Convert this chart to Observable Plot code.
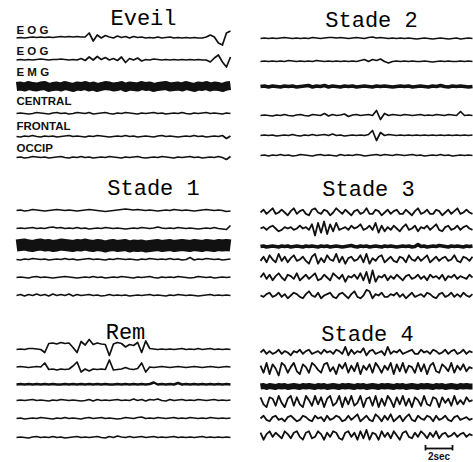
<!DOCTYPE html>
<html><head><meta charset="utf-8">
<script src="https://cdn.jsdelivr.net/npm/d3@7"></script>
<script src="https://cdn.jsdelivr.net/npm/@observablehq/plot@0.6"></script>
<style>html,body{margin:0;padding:0;background:#fff}</style>
</head><body><div id="chart"></div>
<script>
// ---- Data: deflection (upward positive), per channel ----
const channelLabels = ["E O G", "E O G", "E M G", "CENTRAL", "FRONTAL", "OCCIP"];
const panelTitles = ["Eveil", "Stade 2", "Stade 1", "Stade 3", "Rem", "Stade 4"];
const scaleLabel = "2sec";
const scaleSeconds = 2;

const eveilEOG1 = [0,0.5,0,0.5,1,0.5,1,0.5,1,0.5,1,1.5,1,1.5,1,1.5,1,1,5,-3,3,0,2.5,1,0,2,0.5,1.5,0,1.5,0.5,1,0,0.5,0,1,0,0.5,1,0,0.5,0,0.5,0,0.5,0,0,1,3,1,-5,-7,5,7];
const eveilEOG2 = [0,0.5,0,0.5,0,0.5,1,0.5,0,0.5,0.5,1,0.5,0,0.5,0,1.5,-0.5,3,0,3.5,0.5,2.5,0,1.5,-0.5,3,-2.5,1.5,0,2,-1,0.5,0,1,0.5,0,0.5,0,0.5,0,0.5,0,0.5,0,0.5,0,0,-2,2,5,-2,-7,3];
const eveilEMG = [0,0.5,-0.5,1,0,-0.5,0.5,1,-1,0,0.5,-0.5,1,0,-1,0.5,0,1,-0.5,0.5,-1,0,1,0.5,-0.5,0,1,-1,0.5,0,-0.5,1,0,0.5,-1,0,0.5,1,-0.5,0,0.5,-0.5,1,0,-1,0.5,0,1,-0.5,0.5,0,-1,0.5,1];
const eveilCentral = [0,0.5,0,-0.5,0,1,0.5,0,-0.5,0.5,1,0,0.5,-0.5,0,1,0.5,0,1,-0.5,0,0.5,1,0,-0.5,0.5,0,1,0.5,0,-0.5,0.5,0,0.5,1,0,0.5,-0.5,0,0.5,0,1,0,-0.5,0.5,0,0.5,1,0,0.5,0,-0.5,0.5,0];
const eveilFrontal = [0,-0.5,0.5,0,1,0,-0.5,0.5,0,0.5,-0.5,0,0.5,1,0,0.5,0,-0.5,0.5,0,1,0.5,0,-0.5,0,0.5,0,1,0,0.5,-0.5,0,0.5,0,-0.5,0.5,1,0,0.5,0,-0.5,0,0.5,0,1,0,0.5,-0.5,0,0.5,0,1,-2,0.5];
const eveilOccip = [0,0.5,-0.5,0,1,0.5,0,0.5,-0.5,0,0.5,1,0,-0.5,0.5,0,1,0,0.5,-0.5,0,0.5,0,1,0.5,0,-0.5,0.5,0,0.5,1,0,-0.5,0,0.5,0,1,0.5,0,-0.5,0.5,0,0.5,1,0,0.5,-0.5,0,0.5,0,1,0,-2,1];

const s2T1 = [0,0.5,0,0.5,0,0.5,1,0.5,0,0.5,0,0.5,0,1,0.5,0,0.5,1,1,0.5,1,0.5,0,0.5,1,0.5,0,1,1.5,0.5,1,0.5,0,0.5,0,0.5,0,0.5,0,-0.5,0,0.5,0,-0.5,0,0.5,0,-0.5,0,0.5,-0.5,0,0.5,0];
const s2T2 = [0,0.5,0,0.5,0,0.5,0,1,0.5,0,0.5,0,0.5,0,1,0.5,0,0.5,0,0.5,0,0.5,0,0.5,0,1,2,0,2,1,2.5,0,-1.5,0,0.5,0,0.5,0,0.5,0,0,0.5,0,-0.5,0,0.5,0,0.5,0,0,0.5,0,0.5,0];
const s2T3 = [0,0.5,-0.5,0.5,0,-0.5,0.5,0,0.5,-0.5,0,0.5,1,-0.5,0.5,0,1,-0.5,0.5,0,-0.5,0.5,0,0.5,-0.5,0,0.5,0,-0.5,0.5,0,0.5,0,-0.5,0,0.5,0,0.5,-0.5,0,0.5,0,-0.5,0.5,0,1,0,-0.5,0.5,0,0.5,0,-0.5,0];
const s2T4 = [0,0.5,0,-0.5,0.5,0,1,0,-0.5,0.5,1,0,-0.5,1,0.5,0,2,-0.5,1,0,0.5,1.5,-1,0.5,1,0,0.5,1,0,5,-4,2,0,1,0.5,0,1,0.5,0,0.5,1,0,0.5,0,1,0.5,0,1,0.5,0,4,0,0.5,0];
const s2T5 = [0,0.5,0,0.5,-0.5,0,0.5,0,1,0,-0.5,0.5,0,1,0,0.5,1,0,1.5,0,0.5,-0.5,0,0.5,0,0.5,0,1,5,-5,3,0,1,0.5,0,0.5,0,0.5,0,0.5,0,0.5,0,0.5,0,0.5,0,0.5,0,0.5,0,0.5,0,0.5];
const s2T6 = [0,0.5,-0.5,0.5,0,1,0,0.5,-0.5,0,1,0.5,0,-0.5,0.5,1,0,0.5,0,-0.5,1,0,0.5,0,1,0.5,-0.5,0,0.5,1,0,1,0.5,0,1,0.5,0,0.5,1,0,0.5,-0.5,0,0.5,0,1,0,0.5,-0.5,0,0.5,0,0.5,0];

const s1T1 = [0,0.5,-0.5,0,1,0.5,0,-0.5,0,0.5,1,0.5,0,0.5,0,-0.5,0,0.5,1,0.5,0,-0.5,-1,-0.5,0,0.5,1,1.5,1,0.5,1,0.5,0,0.5,0,-0.5,0,0.5,0,1,0.5,0,0.5,0,-0.5,0,0.5,1,0.5,0,0.5,0,-1,-0.5];
const s1T2 = [0,0.5,0,0.5,1,0,0.5,0,1,1.5,0.5,1,0,0.5,0,1,0,0.5,-0.5,0,0.5,0,1,0.5,0,0.5,0,-0.5,0,0.5,0,1,0.5,0,0.5,1.5,0.5,0,0.5,0,1,0.5,0,0.5,0,-0.5,0,0.5,0,1,0,-0.5,-1,3];
const s1T3 = [0,0.5,1,0,-0.5,0.5,1,0,0.5,-0.5,0,1,0.5,0,-0.5,0.5,0,1,0,-0.5,0.5,0,-1,0,0.5,-0.5,0,0.5,-1,0,-0.5,0,-1,-0.5,0,0.5,-0.5,0,0.5,-0.5,0,0.5,0,-0.5,0.5,0,-0.5,0.5,0,-0.5,0.5,0,0.5,0];
const s1T4 = [0,-0.5,0.5,0,1,0.5,0,0.5,-0.5,0,0.5,0,1,0,0.5,-0.5,0,0.5,1,0,0.5,0,-0.5,0.5,0,1,0.5,0,0.5,0,-0.5,0.5,0,1,0.5,0,0.5,0,1,0,0.5,-0.5,0,2,-0.5,0.5,0,1,0.5,0,0.5,-0.5,0,0.5];
const s1T5 = [0,0.5,0,-0.5,0.5,1,0,0.5,0,-0.5,0,0.5,1,0.5,0,-0.5,0,0.5,0,1,0,0.5,-0.5,0,0.5,0,1,0.5,0,-0.5,0.5,0,0.5,1,0,-0.5,0.5,0,0.5,0,1,0.5,0,-0.5,0,1,0.5,0,0.5,-0.5,0,0.5,0,0.5];
const s1T6 = [0,1,-0.5,1,0,1.5,0,1,-0.5,1.5,0,1,0,1.5,-0.5,1,0,0.5,1,0,0.5,-0.5,0,1,0,0.5,0,0.5,-0.5,0,0.5,0,0.5,1,0,0.5,0,-0.5,0.5,0,1,0.5,0,0.5,0,-0.5,0,0.5,1,0,0.5,0,0.5,0];

const s3T1 = [0,2,-1,1,3,-1,0,2,0,-2,1,3,-1,1,2,-1,-2,2,3,0,-1,2,1,-2,0,3,1,-1,2,0,-2,1,2,-1,0,3,-1,-1,2,1,-2,0,2,-1,1,2,-1,-1,2,0,-2,1,3,-1,0,2,-1,-1,2,1,-2,0,2,-1,1,3,-1,0,2,0,-1];
const s3T2 = [0,1,-1,1,2,0,-2,-1,1,0,1,-1,0,2,0,1,-1,3,-5,4,-3,5,-4,3,-2,4,-1,0,1,-1,2,0,1,3,-1,0,2,-1,4,-3,2,-2,1,-1,2,0,-2,1,3,-1,0,2,-2,1,0,2,-1,1,3,-1,-2,1,2,-1,0,2,-1,1,2,0,-1];
const s3T3 = [0,0.5,-0.5,0,0.5,0,-0.5,0.5,0,0.5,-0.5,0,0.5,0,-0.5,0.5,0,0.5,0,-0.5,0.5,0,0.5,-0.5,0,0.5,0,-0.5,0,0.5,1,0,-0.5,0.5,0,0.5,-0.5,0,0.5,0,-0.5,0.5,0,0.5,0,-0.5,0,0.5,0,0.5,-0.5,0,2,0,0.5,-0.5,0,0.5,0,1,0.5,0,-0.5,0.5,0,0.5,0,-0.5,0.5,0,0.5];
const s3T4 = [-1,2,-2,3,0,-2,4,-1,2,-2,1,3,-1,0,2,-1,-3,2,4,-3,1,-2,3,0,-1,4,-2,2,-3,1,2,-1,0,3,-2,4,-3,1,-1,2,3,-2,0,2,-1,-2,2,1,-2,3,0,-1,2,-1,1,3,-2,0,2,-1,1,2,-1,0,3,-1,-2,2,1,-1,2];
const s3T5 = [0,3,-1,2,-2,1,3,0,-2,2,1,-1,3,-2,0,2,-1,1,3,-2,-1,2,0,-2,3,1,-1,2,-3,1,0,2,-1,3,-2,4,-4,5,-3,1,0,2,-2,1,-1,2,0,-2,1,2,-1,0,2,-1,1,-2,2,0,1,-1,2,-2,1,0,2,-1,1,0,-1,2,0];
const s3T6 = [0,-1,1,2,-1,0,2,-1,1,-2,0,2,1,-1,-2,1,3,0,-1,2,-2,0,1,2,-1,-2,1,2,0,-2,1,3,-1,-2,0,4,3,-2,1,0,2,-1,-1,1,0,2,-1,1,-2,0,2,-1,0,1,-1,2,1,-1,-2,1,2,-1,0,2,-1,1,-1,2,0,-1,1];

const remEOG1 = [0,0.5,0,1,1,0.5,0,-3,6,6.5,5.5,7,6,6.5,2,-3,8,4.5,10,5,6.5,5.5,5,-6,5.5,7,6,2.5,5,4,7,-3,8.5,1,0.5,0,0.5,0,0.5,0,0.5,1,0,0.5,0,1,0,0.5,1,0,0.5,0,0.5,0];
const remEOG2 = [0,0.5,0,-0.5,0,0.5,0,4,-2.5,-2,-3,-2,-2.5,-2,1,5,-5,-2,-4,-2,-2.5,-2,-2.5,7,-3,-2.5,-2,-0.5,-2,-2.5,-1.5,4,-5,0,-0.5,0,0.5,0,-0.5,0,0.5,0,-0.5,0,0.5,0,-0.5,0,0.5,0,-0.5,0,0.5,0];
const remT3 = [0,0.5,0,0.5,0,0.5,0,0.5,0,0.5,0,0,0.5,0,0.5,0,0.5,0,0.5,0,0.5,0,0.5,0,0,0.5,0,0.5,0,0.5,0,0.5,0,0.5,2,0,0.5,0,0.5,0,1.5,0,0.5,0,0.5,0,0.5,0,0.5,0,0.5,0,0.5,0];
const remT4 = [0,0.5,0,0.5,1,0,0.5,0,-0.5,0.5,0,1,0.5,0,0.5,0,-0.5,0,1,-0.5,1,0,0.5,0,0.5,1,0,0.5,0,1.5,0,1,-0.5,1,0.5,1.5,0,-0.5,1,0,0.5,1,0,0.5,0,1,0.5,0,0.5,1,0,0.5,0,0.5];
const remT5 = [0,0.5,-0.5,0,0.5,0,1,0.5,0,-0.5,0.5,0,1,0,0.5,0,-0.5,0.5,1,0,0.5,1,0,0.5,0,-0.5,0,1,0.5,0,1,1.5,0,0.5,0,1,0.5,0,0.5,1,0,0.5,0,1,0.5,0,0.5,0,1,0.5,0,0.5,0,0.5];
const remT6 = [0,0.5,0,-0.5,0.5,1,0,0.5,0,1,0,0.5,-0.5,0,0.5,1,0,0.5,0,0.5,1,0,-0.5,1,0,1.5,0.5,0,1,0,0.5,1,0,0.5,1,0,0.5,0,0.5,1,0,0.5,0,0.5,0,0.5,1,0,0.5,0,0.5,0,0.5,0];

const s4T1 = [0,2,-1,1,-1,0,2,-1,1,0,-2,1,0,2,-1,1,2,-1,0,1,-1,2,0,1,-1,2,1,-1,4,-2,2,-1,1,0,3,-2,1,2,-1,0,1,-2,4,-1,1,0,2,-1,0,1,2,-1,-1,2,0,1,-1,2,1,-1,0,2,-1,1,2,-1,0,2,-1,1,0];
const s4T2 = [2,-3,4,-4,3,0,-5,4,2,-3,1,4,-2,-4,3,1,-3,4,2,-1,-3,3,4,-2,1,-4,3,0,4,-3,2,-2,4,-4,2,-1,3,-3,4,1,-3,2,-1,4,-4,3,-2,4,-3,2,1,-3,4,-2,3,-4,2,4,-2,-3,3,1,-2,4,-3,2,-1,3,-2,1,0];
const s4T3 = [0,0.5,-0.5,0.5,0,-0.5,0.5,0,0.5,-0.5,0,0.5,0,-0.5,0.5,0,0.5,0,-0.5,0.5,0,0.5,-0.5,0,0.5,0,-0.5,0.5,0,0.5,0,-0.5,0.5,0,0.5,-0.5,0,0.5,0,-0.5,0.5,0,0.5,0,-0.5,0.5,0,0.5,-0.5,0,0.5,0,-0.5,0.5,0,0.5,0,-0.5,0.5,0,0.5,-0.5,0,0.5,0,-0.5,0.5,0,0.5,0,0];
const s4T4 = [3,-2,-4,3,2,-3,4,-1,-4,2,4,-3,3,-2,-4,4,1,-3,4,-2,3,-4,2,4,-3,-1,4,-4,3,-2,4,-3,-1,4,-4,2,3,-3,4,-4,2,-3,4,1,-4,3,-2,4,-3,2,-4,3,1,-3,4,-2,-3,3,2,-4,3,-1,2,-3,4,-2,1,-2,3,0,1];
const s4T5 = [0,2,-1,-2,1,2,-1,0,-2,1,2,0,-2,-1,2,1,-1,-2,2,0,1,-2,2,-1,0,2,1,-2,-1,2,-1,1,3,-2,0,2,-1,-2,3,1,-2,2,-1,3,-2,0,2,-2,1,3,-1,-2,2,0,-1,2,1,-2,2,-1,0,2,-1,-2,1,2,-1,0,1,-1,0];
const s4T6 = [2,-3,1,3,-1,2,0,-2,3,1,-2,2,3,-1,-3,2,3,-2,-1,3,1,-3,2,-1,3,2,-2,-3,2,3,-1,2,-3,3,-2,4,-3,2,1,-3,3,-1,2,-2,3,0,-3,2,3,-1,-2,2,-1,3,1,-2,2,-1,3,-2,1,2,-1,0,2,-1,1,2,-1,1,0];

// ---- Layout (x in seconds, y in trace units, top to bottom) ----
const W = 473, H = 462;
const PX_PER_SEC = 13.5;                 // 2 s scale bar ≈ 27 px
const sec = p => p / PX_PER_SEC;
const columns = [[16, 230], [260, 472]];

const panels = [
  {title: panelTitles[0], col: 0, tx: 143, ty: 17,  gain: 1,   lw: 1.7, base: [37.5, 59.5, 86, 113, 136, 157], emg: 9,   traces: [eveilEOG1, eveilEOG2, eveilEMG, eveilCentral, eveilFrontal, eveilOccip]},
  {title: panelTitles[1], col: 1, tx: 371, ty: 19,  gain: 1,   lw: 1.7, base: [38, 61, 86, 115, 135, 155],     emg: 3.5, traces: [s2T1, s2T2, s2T3, s2T4, s2T5, s2T6]},
  {title: panelTitles[2], col: 0, tx: 153, ty: 187, gain: 1,   lw: 1.7, base: [210, 228, 245, 259, 277, 295],  emg: 12,  traces: [s1T1, s1T2, s1T3, s1T4, s1T5, s1T6]},
  {title: panelTitles[3], col: 1, tx: 368, ty: 188, gain: 1.4, lw: 1.8, base: [212, 228, 246, 259, 277, 295],  emg: 3.5, traces: [s3T1, s3T2, s3T3, s3T4, s3T5, s3T6]},
  {title: panelTitles[4], col: 0, tx: 125, ty: 331, gain: 1,   lw: 1.7, base: [349, 366.5, 384, 400, 418, 437], emg: 2.5, traces: [remEOG1, remEOG2, remT3, remT4, remT5, remT6]},
  {title: panelTitles[5], col: 1, tx: 367, ty: 333, gain: 1.4, lw: 1.8, base: [352, 368, 386, 401, 418, 435],  emg: 6,   traces: [s4T1, s4T2, s4T3, s4T4, s4T5, s4T6]}
];
const labelY = [29.5, 50.5, 72, 101, 126, 147.5];

const marks = [];
for (const p of panels) {
  const [a, b] = columns[p.col];
  const t0 = sec(a), t1 = sec(b);
  p.traces.forEach((vals, k) => {
    const n = vals.length;
    const g = k === 2 ? 1 : p.gain;
    const pts = vals.map((v, i) => ({t: t0 + (t1 - t0) * i / (n - 1), y: p.base[k] - g * v}));
    marks.push(Plot.line(pts, {x: "t", y: "y", stroke: "#111", strokeWidth: k === 2 ? p.emg : p.lw, strokeLinejoin: "round", strokeLinecap: "butt"}));
  });
  marks.push(Plot.text([p.title], {x: sec(p.tx), y: p.ty, text: d => d, fontFamily: "Liberation Mono, monospace", fontSize: 22, fill: "#000"}));
}
marks.push(Plot.text(channelLabels, {x: sec(16), y: (d, i) => labelY[i], text: d => d, textAnchor: "start", fontFamily: "Liberation Sans, Arial, sans-serif", fontSize: 11.5, fontWeight: "bold", fill: "#111"}));

// scale bar
const sb0 = sec(425);
marks.push(Plot.link([0], {x1: sb0, x2: sb0 + scaleSeconds, y1: 448, y2: 448, stroke: "#111", strokeWidth: 1.8}));
marks.push(Plot.ruleX([sb0, sb0 + scaleSeconds], {x: d => d, y1: 445, y2: 450.5, stroke: "#111", strokeWidth: 1.8}));
marks.push(Plot.text([scaleLabel], {x: sb0 + scaleSeconds / 2, y: 456.5, text: d => d, fontFamily: "Liberation Sans, Arial, sans-serif", fontSize: 10, fontWeight: "bold", fill: "#111"}));

const chart = Plot.plot({
  width: W, height: H, margin: 0,
  x: {domain: [0, sec(W)], range: [0, W], axis: null},
  y: {domain: [0, H], range: [0, H], axis: null},
  style: {background: "#fff"},
  marks
});
document.getElementById("chart").appendChild(chart);
</script>
</body></html>
